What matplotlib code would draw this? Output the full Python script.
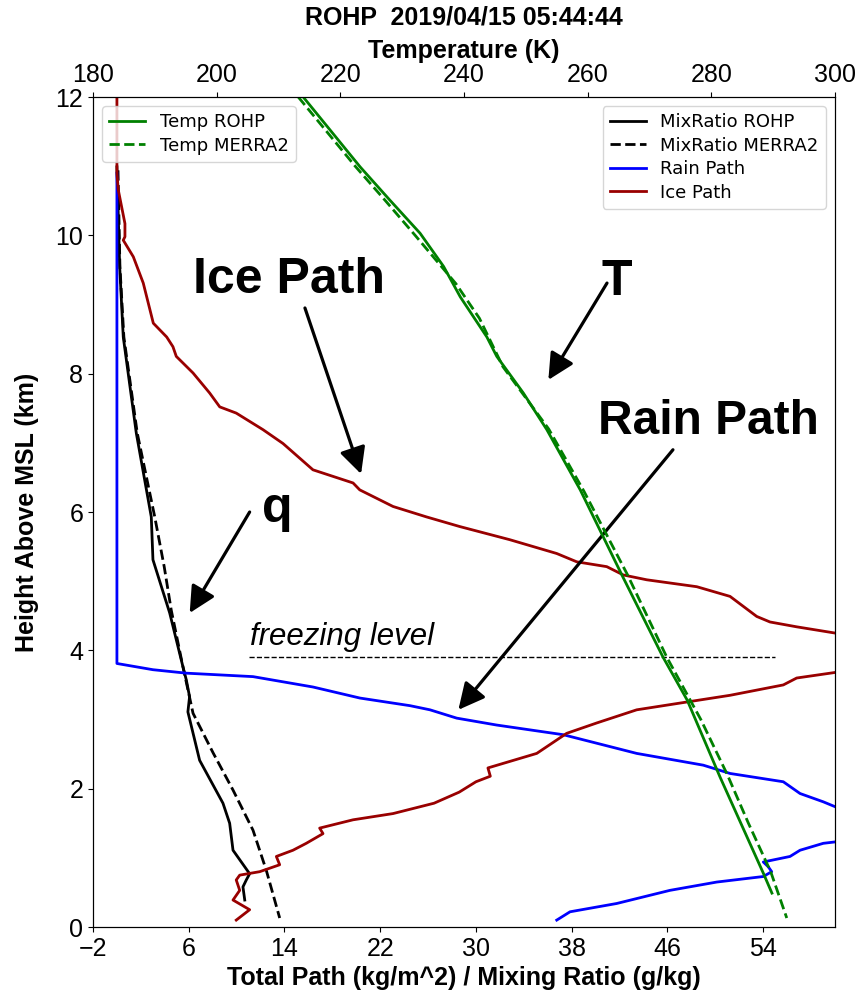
import matplotlib
matplotlib.use('Agg')
import matplotlib.pyplot as plt

plt.rcParams['font.family'] = ['Liberation Sans', 'DejaVu Sans']

# Temperature profiles (K) against height (km)
temp_rohp_z = [12.0, 10.99, 10.51, 10.03, 9.55, 9.11, 8.53, 8.25, 7.72, 7.19, 6.32, 5.06, 3.90, 3.28, 2.17, 0.78, 0.49]
temp_rohp = [214.0, 223.2, 228.0, 232.9, 236.7, 239.4, 243.7, 245.3, 249.6, 253.4, 258.8, 265.7, 272.2, 276.1, 281.4, 288.4, 289.8]
temp_merra_z = [12.0, 11.0, 10.5, 10.0, 9.3, 8.8, 8.1, 7.2, 6.3, 5.1, 3.9, 3.0, 2.2, 1.5, 0.8, 0.13]
temp_merra = [213.2, 222.4, 227.3, 232.1, 238.7, 242.5, 246.3, 253.7, 259.4, 266.4, 272.8, 278.3, 282.6, 286.0, 289.6, 292.2]

# Mixing ratio (g/kg)
mix_rohp_z = [10.99, 9.55, 8.53, 7.14, 5.93, 5.31, 4.54, 3.76, 3.57, 3.33, 3.11, 2.41, 1.79, 1.50, 1.11, 0.77, 0.68, 0.58, 0.39]
mix_rohp = [0.0, 0.23, 0.53, 1.62, 2.87, 3.01, 4.41, 5.52, 5.80, 6.07, 5.93, 6.91, 8.86, 9.42, 9.70, 11.09, 10.81, 10.53, 10.68]
mix_merra_z = [10.94, 9.55, 8.53, 7.14, 5.93, 5.21, 4.58, 3.76, 3.09, 2.52, 1.98, 1.40, 0.82, 0.13]
mix_merra = [0.09, 0.25, 0.58, 1.70, 3.16, 3.95, 4.54, 5.52, 6.36, 8.03, 9.70, 11.37, 12.48, 13.60]

# Rain path (kg/m^2), upper and lower branch
rain_hi_z = [10.90, 3.81, 3.72, 3.67, 3.62, 3.47, 3.31, 3.20, 3.14, 3.02, 2.92, 2.78, 2.51, 2.34, 2.22, 2.10, 1.93, 1.81, 1.74]
rain_hi = [0.0, 0.0, 3.01, 5.80, 11.37, 16.38, 20.31, 24.49, 26.16, 28.39, 31.73, 37.30, 43.43, 48.99, 51.23, 55.68, 57.08, 59.02, 60.0]
rain_lo_z = [0.10, 0.22, 0.34, 0.53, 0.65, 0.73, 0.80, 0.87, 0.94, 1.02, 1.11, 1.21, 1.23]
rain_lo = [36.75, 37.86, 41.76, 46.21, 50.12, 54.01, 54.71, 54.43, 54.01, 56.24, 57.08, 59.02, 60.0]

# Ice path (kg/m^2), upper and lower branch
ice_hi_z = [12.0, 10.90, 10.66, 10.17, 9.98, 9.93, 9.69, 9.31, 8.73, 8.53, 8.39, 8.25, 8.01, 7.72, 7.52, 7.43,
            7.19, 6.99, 6.61, 6.42, 6.32, 6.08, 5.93, 5.79, 5.60, 5.40, 5.28, 5.21, 5.09, 5.02, 4.92, 4.78,
            4.49, 4.41, 4.34, 4.25]
ice_hi = [0.0, 0.0, 0.11, 0.67, 0.67, 0.53, 1.37, 2.20, 3.04, 4.16, 4.68, 4.96, 6.36, 7.75, 8.59, 9.97,
          12.21, 13.88, 16.38, 19.73, 20.29, 23.07, 25.85, 28.64, 32.82, 36.75, 38.42, 40.93, 42.31, 44.27, 48.45, 51.23,
          53.46, 54.57, 56.80, 60.0]
ice_lo_z = [0.10, 0.25, 0.39, 0.53, 0.68, 0.75, 0.80, 0.90, 1.02, 1.11, 1.21, 1.35, 1.43, 1.55, 1.64, 1.79,
            1.95, 2.10, 2.18, 2.30, 2.51, 2.80, 2.95, 3.14, 3.26, 3.35, 3.50, 3.60, 3.68]
ice_lo = [9.97, 11.09, 9.70, 10.26, 9.97, 10.26, 11.93, 13.60, 13.32, 14.71, 15.82, 17.22, 16.94, 19.73, 23.07, 26.5,
          28.6, 30.0, 31.2, 31.0, 35.08, 37.58, 40.09, 43.43, 47.88, 51.23, 55.68, 56.80, 60.0]

freezing_z = 3.9
freezing_x = [11.0, 55.0]

x_ticks = [-2, 6, 14, 22, 30, 38, 46, 54]
t_ticks = [180, 200, 220, 240, 260, 280, 300]
z_ticks = [0, 2, 4, 6, 8, 10, 12]

fig = plt.figure(figsize=(8.61, 9.97), dpi=100)
ax = fig.add_axes([0.108, 0.0702, 0.8618, 0.8325])

# path and moisture on the bottom axis
ax.plot(mix_rohp, mix_rohp_z, color='black', lw=2, label='MixRatio ROHP')
ax.plot(mix_merra, mix_merra_z, color='black', lw=2, ls='--', label='MixRatio MERRA2')
ax.plot(rain_hi, rain_hi_z, color='blue', lw=2, label='Rain Path')
ax.plot(rain_lo, rain_lo_z, color='blue', lw=2)
ax.plot(ice_hi, ice_hi_z, color='#990000', lw=2, label='Ice Path')
ax.plot(ice_lo, ice_lo_z, color='#990000', lw=2)
ax.plot(freezing_x, [freezing_z, freezing_z], color='black', lw=1, ls='--')

ax.set_xlim(-2, 60)
ax.set_ylim(0, 12)
ax.set_xticks(x_ticks)
ax.set_yticks(z_ticks)
ax.tick_params(labelsize=18)
ax.set_xlabel('Total Path (kg/m^2) / Mixing Ratio (g/kg)', fontsize=18, fontweight='bold')
ax.set_ylabel('Height Above MSL (km)', fontsize=18, fontweight='bold', labelpad=12)
ax.legend(loc='upper right', prop={'family': 'DejaVu Sans', 'size': 13}, labelspacing=0.3)

# temperature on the top axis
ax2 = ax.twiny()
ax2.plot(temp_rohp, temp_rohp_z, color='green', lw=2, label='Temp ROHP')
ax2.plot(temp_merra, temp_merra_z, color='green', lw=2, ls='--', label='Temp MERRA2')
ax2.set_xlim(180, 300)
ax2.set_xticks(t_ticks)
ax2.tick_params(labelsize=18)
ax2.set_xlabel('Temperature (K)', fontsize=18, fontweight='bold', labelpad=4)
ax2.legend(loc='upper left', prop={'family': 'DejaVu Sans', 'size': 13}, labelspacing=0.3)

fig.text(0.539, 0.982, 'ROHP  2019/04/15 05:44:44', fontsize=18, fontweight='bold', ha='center', va='center')

# annotations
ax.text(11.1, 4.08, 'freezing level', fontsize=22.5, style='italic', ha='left', va='baseline')
big = dict(fontsize=36, fontweight='bold', ha='left', va='baseline')
ax.text(6.36, 9.17, 'Ice Path', **big)
ax.text(40.45, 9.14, 'T', **big)
ax.text(40.2, 7.13, 'Rain Path', fontsize=34.5, fontweight='bold', ha='left', va='baseline')
ax.text(12.12, 5.86, 'q', **big)

arrow = dict(arrowstyle='-|>', color='black', lw=2.3, mutation_scale=40, shrinkA=0, shrinkB=0)
ax.annotate('', xy=(20.4, 6.55), xytext=(15.71, 8.95), arrowprops=arrow)
ax.annotate('', xy=(36.05, 7.91), xytext=(40.95, 9.31), arrowprops=arrow)
ax.annotate('', xy=(28.53, 3.14), xytext=(46.46, 6.90), arrowprops=arrow)
ax.annotate('', xy=(6.08, 4.54), xytext=(11.09, 6.00), arrowprops=arrow)

plt.savefig('out.png', dpi=100)
